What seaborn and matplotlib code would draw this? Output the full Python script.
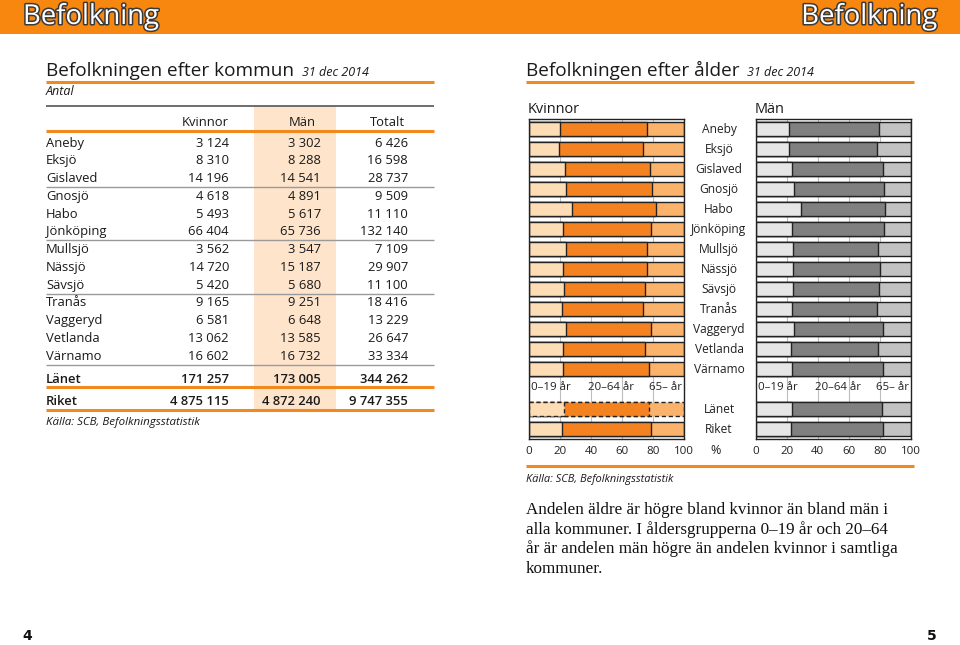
import matplotlib
matplotlib.use("Agg")
import matplotlib.pyplot as plt
import matplotlib.patheffects as pe
from matplotlib.patches import Rectangle
from matplotlib.lines import Line2D
import pandas as pd
import seaborn as sns

sns.set_theme(style="white")
SANS = ["Open Sans", "DejaVu Sans"]
plt.rcParams["font.family"] = SANS

# ---------------- data ----------------
tab_names = ["Aneby", "Eksjö", "Gislaved", "Gnosjö", "Habo", "Jönköping", "Mullsjö",
             "Nässjö", "Sävsjö", "Tranås", "Vaggeryd", "Vetlanda", "Värnamo"]
tab_kvinnor = [3124, 8310, 14196, 4618, 5493, 66404, 3562, 14720, 5420, 9165, 6581, 13062, 16602]
tab_man = [3302, 8288, 14541, 4891, 5617, 65736, 3547, 15187, 5680, 9251, 6648, 13585, 16732]
tab_totalt = [6426, 16598, 28737, 9509, 11110, 132140, 7109, 29907, 11100, 18416, 13229, 26647, 33334]
sum_names = ["Länet", "Riket"]
sum_kvinnor = [171257, 4875115]
sum_man = [173005, 4872240]
sum_totalt = [344262, 9747355]

age_names = tab_names + ["Länet", "Riket"]
k_0_19 = [20.0, 19.6, 23.4, 24.1, 27.9, 21.7, 24.1, 22.1, 22.8, 21.3, 24.1, 21.7, 22.1, 22.4, 21.3]
k_20_64 = [56.3, 54.1, 54.9, 55.3, 54.2, 57.2, 52.2, 54.2, 52.2, 52.4, 54.4, 53.3, 55.1, 55.0, 57.6]
k_65 = [23.7, 26.3, 21.7, 20.6, 17.9, 21.1, 23.7, 23.7, 25.0, 26.3, 21.5, 25.0, 22.8, 22.6, 21.1]
m_0_19 = [21.7, 21.3, 23.4, 24.7, 29.4, 23.6, 24.2, 23.9, 24.2, 23.4, 24.7, 23.0, 23.6, 23.6, 23.0]
m_20_64 = [57.5, 56.6, 58.3, 57.7, 54.0, 59.2, 54.3, 56.3, 55.0, 54.5, 57.0, 55.9, 58.1, 57.9, 59.1]
m_65 = [20.8, 22.1, 18.3, 17.6, 16.6, 17.2, 21.5, 19.8, 20.8, 22.1, 18.3, 21.1, 18.3, 18.5, 17.9]
age_groups = ["0–19 år", "20–64 år", "65– år"]
x_ticks = [0, 20, 40, 60, 80, 100]

ORANGE = "#F7870F"
K_COLS = ["#FDDDB6", "#F58220", "#FBB36C"]
M_COLS = ["#E6E6E6", "#808080", "#C2C2C2"]
TXT = "#1a1a1a"

W, H = 960, 645
fig = plt.figure(figsize=(W / 100, H / 100), dpi=100)
fig.patch.set_facecolor("white")

bg = fig.add_axes([0, 0, 1, 1])
bg.set_xlim(0, W)
bg.set_ylim(H, 0)
bg.axis("off")


def px(v):
    return v * 0.72  # pixels -> points


def hline(x0, x1, y, color, lw):
    bg.add_line(Line2D([x0, x1], [y, y], color=color, lw=lw, solid_capstyle="butt"))


# header band
bg.add_patch(Rectangle((0, 0), W, 34, color=ORANGE, lw=0))
outline = [pe.withStroke(linewidth=2.2, foreground="#3a3a3a")]
bg.text(23, 24, "Befolkning", fontsize=px(27.5), color="white", va="baseline", ha="left",
        path_effects=outline)
bg.text(937, 24, "Befolkning", fontsize=px(27.5), color="white", va="baseline", ha="right",
        path_effects=outline)

# ---------------- left: table ----------------
bg.text(46, 76.5, "Befolkningen efter kommun", fontsize=px(19), color=TXT, va="baseline")
bg.text(302, 76.5, "31 dec 2014", fontsize=px(12.5), color=TXT, va="baseline", style="italic")
hline(46, 434, 81.5, "#F0891E", 2.2)
bg.text(46, 95, "Antal", fontsize=px(12.5), color=TXT, va="baseline", style="italic")

bg.add_patch(Rectangle((254, 106), 82, 304, color="#FDE4CB", lw=0, zorder=0))
hline(46, 434, 106, "#555555", 1.2)

FS = px(13)
XN, XK, XM, XT = 46, 229, 321, 408
bg.text(XK, 125.5, "Kvinnor", fontsize=FS, color=TXT, ha="right", va="baseline")
bg.text(302, 125.5, "Män", fontsize=FS, color=TXT, ha="center", va="baseline")
bg.text(XT - 3, 125.5, "Totalt", fontsize=FS, color=TXT, ha="right", va="baseline")
hline(46, 434, 130.5, "#F0891E", 2.2)


def fmt(v):
    return f"{v:,}".replace(",", " ")


for i, (n, a, b, c) in enumerate(zip(tab_names, tab_kvinnor, tab_man, tab_totalt)):
    yb = 142 + i * 17.75 + 4.7
    bg.text(XN, yb, n, fontsize=FS, color=TXT, va="baseline")
    bg.text(XK, yb, fmt(a), fontsize=FS, color=TXT, va="baseline", ha="right")
    bg.text(XM, yb, fmt(b), fontsize=FS, color=TXT, va="baseline", ha="right")
    bg.text(XT, yb, fmt(c), fontsize=FS, color=TXT, va="baseline", ha="right")
for yl in (187, 240, 293.5, 364.5):
    hline(46, 434, yl, "#9a9a9a", 1.0)

for i, (n, a, b, c) in enumerate(zip(sum_names, sum_kvinnor, sum_man, sum_totalt)):
    yb = [378, 400][i] + 4.7
    for x, s, ha in ((XN, n, "left"), (XK, fmt(a), "right"), (XM, fmt(b), "right"), (XT, fmt(c), "right")):
        bg.text(x, yb, s, fontsize=FS, color=TXT, va="baseline", ha=ha, fontweight="semibold")
hline(46, 434, 387, "#F0891E", 2.2)
hline(46, 434, 410, "#F0891E", 2.2)
bg.text(46, 425.5, "Källa: SCB, Befolkningsstatistik", fontsize=px(11.5), color=TXT,
        va="baseline", style="italic")

# ---------------- right: age charts ----------------
bg.text(526, 76.5, "Befolkningen efter ålder", fontsize=px(19), color=TXT, va="baseline")
bg.text(747, 76.5, "31 dec 2014", fontsize=px(12.5), color=TXT, va="baseline", style="italic")
hline(526, 914, 81.5, "#F0891E", 2.2)

positions = list(range(len(tab_names))) + [len(tab_names) + 1, len(tab_names) + 2]
label_row = len(tab_names)

AX_TOP, AX_BOT = 119, 438.5


def make_axes(left_px, right_px):
    return fig.add_axes([left_px / W, (H - AX_BOT) / H, (right_px - left_px) / W, (AX_BOT - AX_TOP) / H])


def draw_age(ax, a, b, c, cols):
    df = pd.DataFrame({"pos": positions, "name": age_names,
                       "s1": a, "s2": [x + y for x, y in zip(a, b)],
                       "s3": [x + y + z for x, y, z in zip(a, b, c)]})
    for col, colour in zip(["s3", "s2", "s1"], cols[::-1]):
        sns.barplot(data=df, x=col, y="pos", orient="y", native_scale=True, color=colour,
                    edgecolor="#222222", linewidth=1.0, width=0.68, errorbar=None,
                    saturation=1, ax=ax)
    ax.set_xlim(0, 100)
    ax.set_ylim(15.47, -0.5)
    ax.set_xticks(x_ticks)
    ax.set_xticklabels([str(t) for t in x_ticks], fontsize=px(11.5), color="#222222")
    ax.set_yticks([])
    ax.set_xlabel("")
    ax.set_ylabel("")
    ax.tick_params(axis="x", length=0, pad=px(8))
    ax.grid(axis="x", color="#bdbdbd", lw=0.8)
    ax.grid(axis="y", visible=False)
    ax.set_axisbelow(True)
    for s in ax.spines.values():
        s.set_visible(True)
        s.set_color("#222222")
        s.set_linewidth(1.0)
    for gx, g, ha in zip([1.5, 53, 88], age_groups, ["left", "center", "center"]):
        ax.text(gx, label_row - 0.1, g, fontsize=px(11.5), color="#222222", ha=ha, va="center")
    return df


axK = make_axes(529, 684)
draw_age(axK, k_0_19, k_20_64, k_65, K_COLS)
# dashed outline for Länet (women)
for p in axK.patches:
    cy = p.get_y() + p.get_height() / 2
    if abs(cy - positions[-2]) < 0.01:
        p.set_linestyle((0, (3, 2)))

axM = make_axes(755.5, 911)
draw_age(axM, m_0_19, m_20_64, m_65, M_COLS)

# row labels between the charts
for pos, n in zip(positions, age_names):
    axK.text(122.6, pos, n, fontsize=px(12), color="#222222", ha="center", va="center",
             clip_on=False)
axK.text(120.6, 16.05, "%", fontsize=px(12.5), color="#222222", ha="center", va="center",
         clip_on=False)

bg.text(528, 113, "Kvinnor", fontsize=px(14.5), color=TXT, va="baseline")
bg.text(755, 113, "Män", fontsize=px(14.5), color=TXT, va="baseline")

hline(526, 914, 466, "#F0891E", 2.2)
bg.text(526, 482, "Källa: SCB, Befolkningsstatistik", fontsize=px(11), color=TXT,
        va="baseline", style="italic")

para = ["Andelen äldre är högre bland kvinnor än bland män i",
        "alla kommuner. I åldersgrupperna 0–19 år och 20–64",
        "år är andelen män högre än andelen kvinnor i samtliga",
        "kommuner."]
for i, line in enumerate(para):
    bg.text(526, 514 + i * 19.6, line, fontsize=px(17), color="#111111", va="baseline",
            family=["Liberation Serif", "DejaVu Serif"])

bg.text(27, 640.5, "4", fontsize=px(14), color="#111111", fontweight="bold", ha="center",
        va="baseline", family=["DejaVu Sans"])
bg.text(932, 640.5, "5", fontsize=px(14), color="#111111", fontweight="bold", ha="center",
        va="baseline", family=["DejaVu Sans"])

fig.savefig("out.png", dpi=100)
